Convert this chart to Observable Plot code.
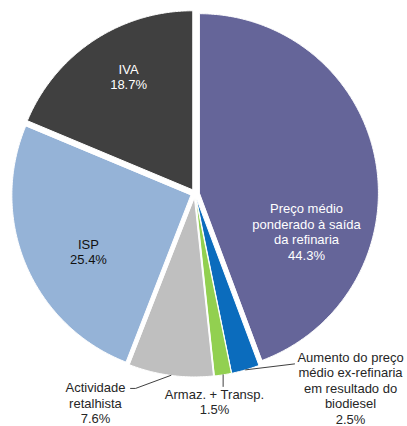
<!DOCTYPE html>
<html><head><meta charset="utf-8">
<script src="https://cdn.jsdelivr.net/npm/d3@7"></script>
<script src="https://cdn.jsdelivr.net/npm/@observablehq/plot@0.6"></script>
<style>body{margin:0;background:#fff}</style>
</head><body><div id="chart"></div>
<script>
// ---- data ----
const categories = [
  "Preço médio ponderado à saída da refinaria",
  "Aumento do preço médio ex-refinaria em resultado do biodiesel",
  "Armaz. + Transp.",
  "Actividade retalhista",
  "ISP",
  "IVA"
];
const labelTexts = [
  "Preço médio\nponderado à saída\nda refinaria",
  "Aumento do preço\nmédio ex-refinaria\nem resultado do\nbiodiesel",
  "Armaz. + Transp.",
  "Actividade\nretalhista",
  "ISP",
  "IVA"
];
const shares = [44.3, 2.5, 1.5, 7.6, 25.4, 18.7];

// ---- styles / layout (pie radius = 1) ----
const colors = ["#656599", "#0b6cbd", "#92d050", "#bfbfbf", "#95b3d7", "#404040"];
const textColors = ["#ffffff", "#262626", "#262626", "#262626", "#111111", "#ffffff"];
const explode = 0.025;
// label centre for each slice, in pie-radius units (y up)
const labelPos = [[0.623, -0.212], [0.869, -1.085], [0.109, -1.162], [-0.556, -1.168], [-0.595, -0.324], [-0.371, 0.654]];
// leader elbows (null = no leader)
const leaderPts = [null, [[0.556, -0.952]], [["anchor", -1.078]], [[-0.332, -1.089], [-0.360, -1.089]], null, null];

const total = d3.sum(shares);
let acc = 0;
const slices = shares.map((v, i) => {
  const a0 = acc / total * 2 * Math.PI;
  acc += v;
  const a1 = acc / total * 2 * Math.PI;
  const mid = (a0 + a1) / 2;
  const ox = explode * Math.sin(mid), oy = explode * Math.cos(mid);
  const n = Math.max(2, Math.ceil((a1 - a0) / (Math.PI / 360)));
  const ring = [[ox, oy]];
  for (let k = 0; k <= n; k++) {
    const a = a0 + (a1 - a0) * k / n;
    ring.push([ox + Math.sin(a), oy + Math.cos(a)]);
  }
  ring.push([ox, oy]);
  return {
    type: "Feature",
    properties: {i, color: colors[i], mid, ox, oy, name: categories[i]},
    geometry: {type: "Polygon", coordinates: [ring]}
  };
});

const labels = shares.map((v, i) => ({
  x: labelPos[i][0], y: labelPos[i][1],
  text: labelTexts[i] + "\n" + v.toFixed(1) + "%",
  color: textColors[i]
}));

const leaders = [];
slices.forEach((s, i) => {
  if (!leaderPts[i]) return;
  const p = s.properties;
  const ax = p.ox + Math.sin(p.mid), ay = p.oy + Math.cos(p.mid);
  const coords = [[ax, ay]].concat(leaderPts[i].map(([x, y]) => [x === "anchor" ? ax : x, y]));
  leaders.push({type: "Feature", properties: {}, geometry: {type: "LineString", coordinates: coords}});
});

const chart = Plot.plot({
  width: 407,
  height: 426,
  marginLeft: 15.5,
  marginRight: 33.5,
  marginTop: 14,
  marginBottom: 54,
  projection: {type: "reflect-y", clip: false, domain: {type: "MultiPoint", coordinates: [[-1, -1], [1, 1]]}},
  color: {type: "identity"},
  style: {fontFamily: "'Liberation Sans', Arial, sans-serif", background: "#fff"},
  marks: [
    Plot.geo(slices, {fill: d => d.properties.color, stroke: "#fff", strokeWidth: 1, clip: false}),
    Plot.geo(leaders, {stroke: "#404040", strokeWidth: 1, fill: "none", clip: false}),
    Plot.text(labels, {x: "x", y: "y", text: "text", fill: "color", fontSize: 13, lineHeight: 1.19, lineAnchor: "middle", textAnchor: "middle", clip: false})
  ]
});
document.getElementById("chart").appendChild(chart);
</script>
</body></html>
